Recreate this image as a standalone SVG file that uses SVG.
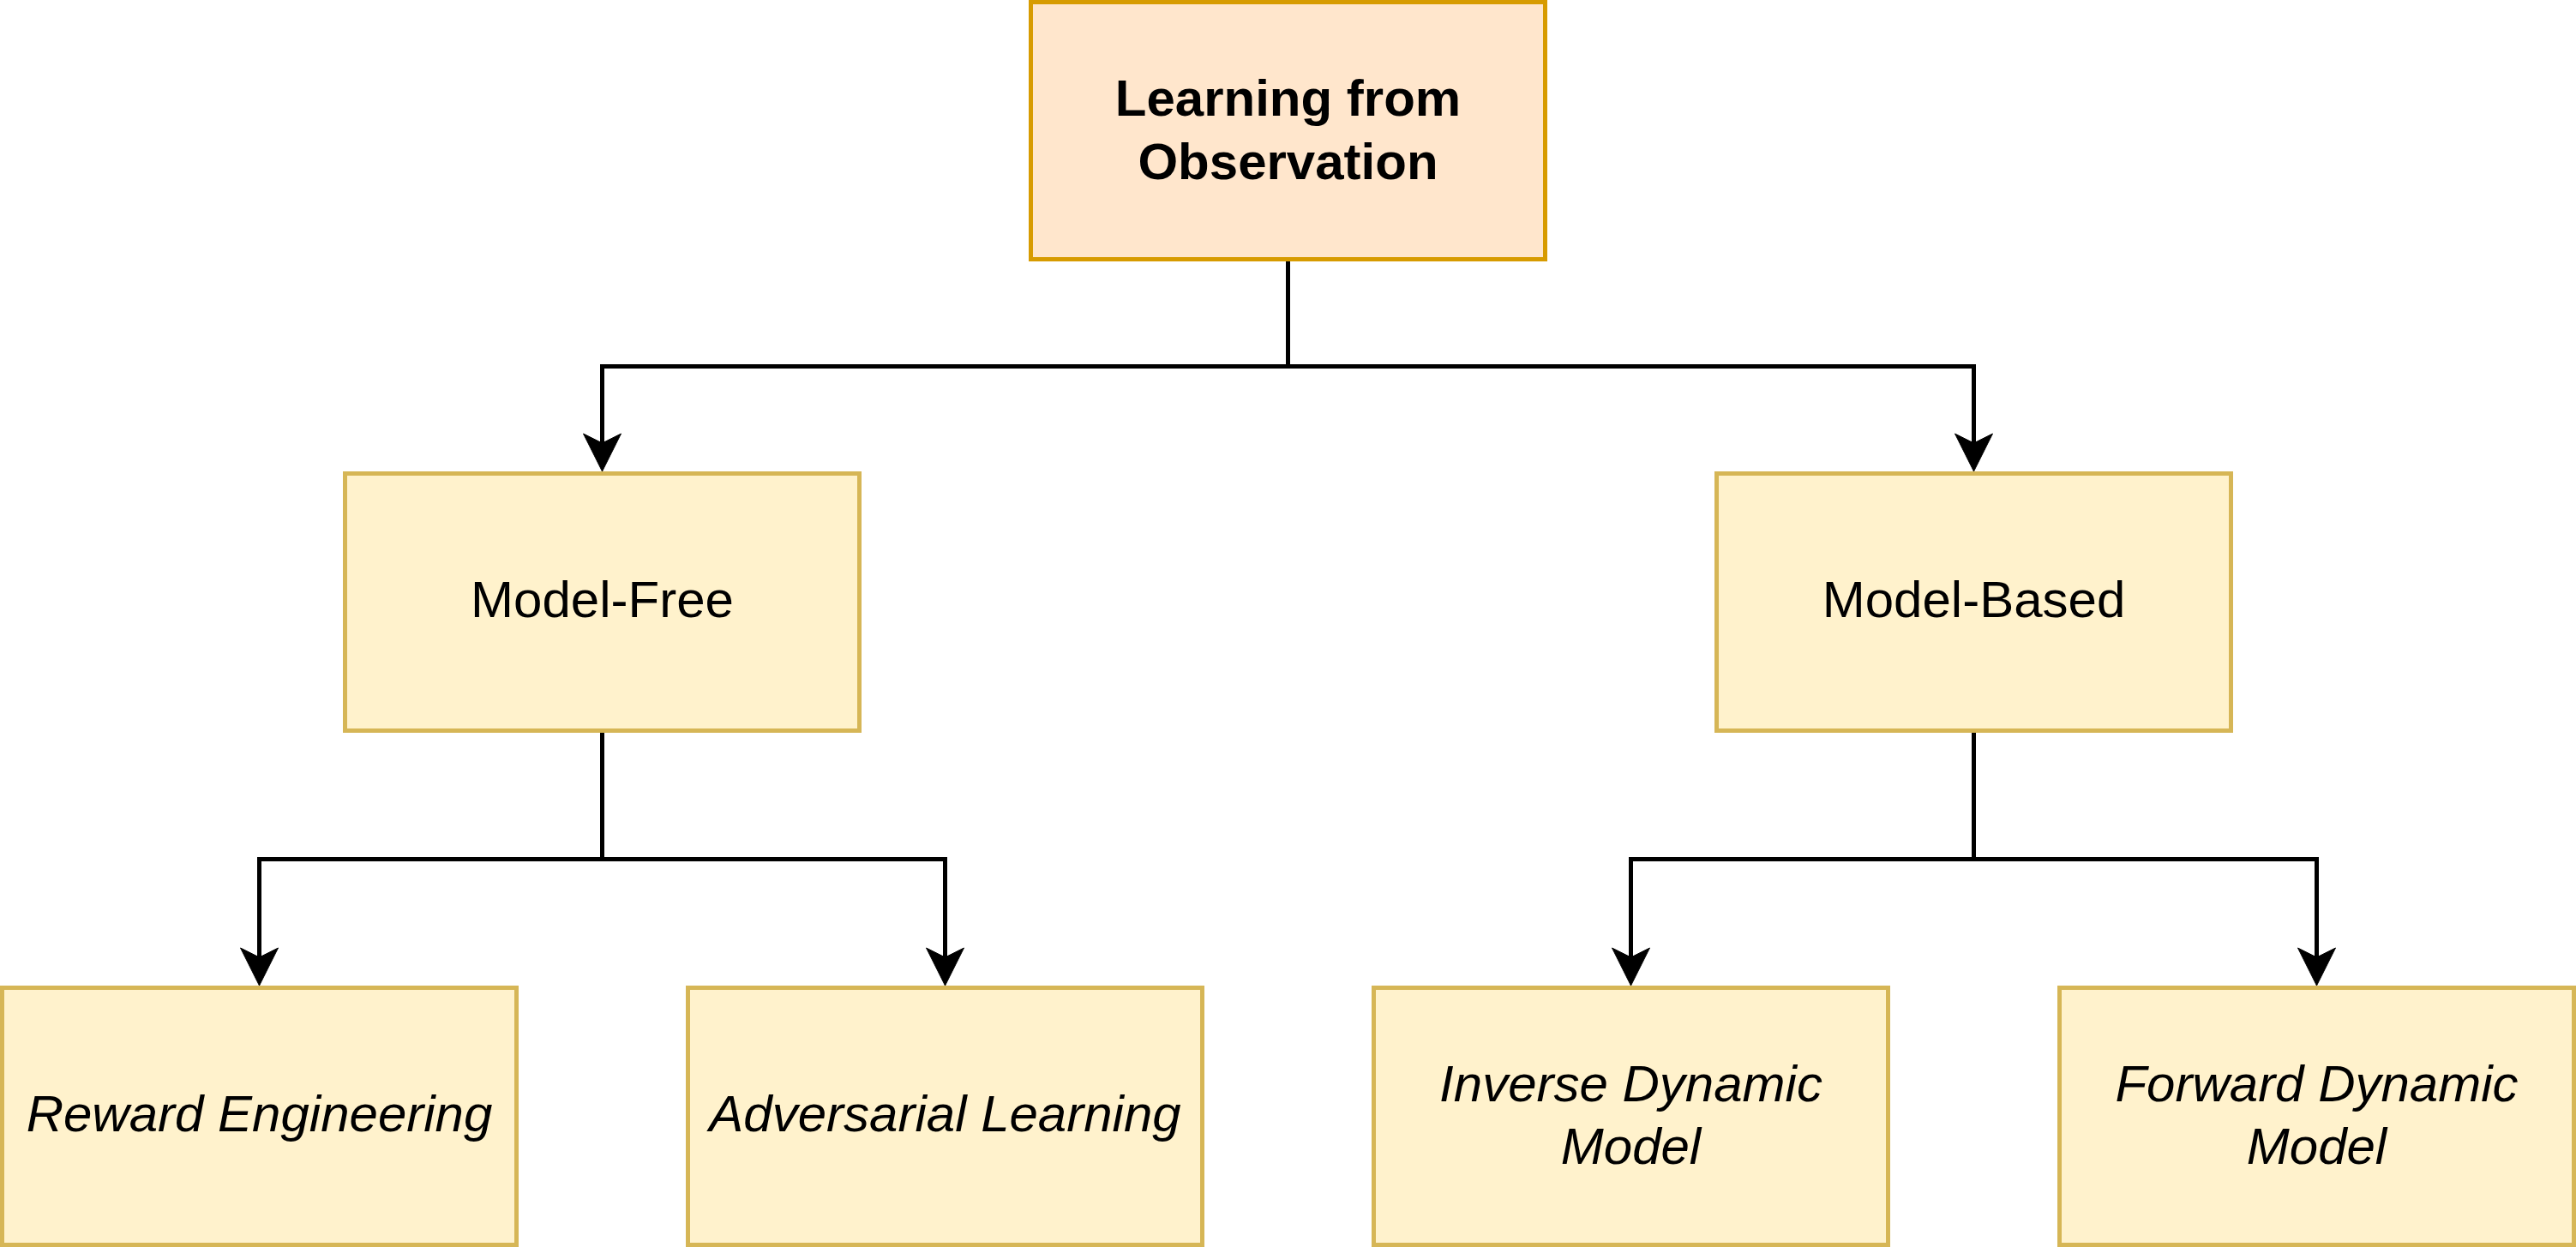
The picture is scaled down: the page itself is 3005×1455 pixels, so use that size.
<svg xmlns="http://www.w3.org/2000/svg" width="3005" height="1455" viewBox="0 0 3005 1455">
<style>
.bg{fill:#ffffff}
.root{fill:#ffe6cc;stroke:#d79b00;stroke-width:5}
.box{fill:#fff2cc;stroke:#d6b656;stroke-width:5}
.lbl{font-family:"Liberation Sans",Arial,Helvetica,sans-serif;font-size:60px;fill:#000000;text-anchor:middle}
.bold{font-weight:bold}
.it{font-style:italic}
.edge{fill:none;stroke:#000000;stroke-width:5;stroke-linejoin:miter}
</style>
<defs>
<marker id="arrow" markerUnits="userSpaceOnUse" viewBox="-2 -26 50 52" markerWidth="50" markerHeight="52" refX="34" refY="0" orient="auto" overflow="visible">
<path d="M0,-22 L44,0 L0,22 L11,0 Z" fill="#000000" stroke="#000000" stroke-width="1"/>
</marker>
</defs>
<rect class="bg" x="0" y="0" width="3005" height="1455"/>
<g id="connectors">
<path class="edge" d="M1502.5,302 V427.5 H702.5 V540" marker-end="url(#arrow)"/>
<path class="edge" d="M1502.5,302 V427.5 H2302.5 V540" marker-end="url(#arrow)"/>
<path class="edge" d="M702.5,852 V1002.5 H302.5 V1140" marker-end="url(#arrow)"/>
<path class="edge" d="M702.5,852 V1002.5 H1102.5 V1140" marker-end="url(#arrow)"/>
<path class="edge" d="M2302.5,852 V1002.5 H1902.5 V1140" marker-end="url(#arrow)"/>
<path class="edge" d="M2302.5,852 V1002.5 H2702.5 V1140" marker-end="url(#arrow)"/>
</g>
<g id="node-lfo">
<rect class="root" x="1202.5" y="2.5" width="600" height="300"/>
<text class="lbl bold" x="1502.5" y="135">Learning from</text>
<text class="lbl bold" x="1502.5" y="209">Observation</text>
</g>
<g id="node-model-free">
<rect class="box" x="402.5" y="552.5" width="600" height="300"/>
<text class="lbl" x="702.5" y="720">Model-Free</text>
</g>
<g id="node-model-based">
<rect class="box" x="2002.5" y="552.5" width="600" height="300"/>
<text class="lbl" x="2302.5" y="720">Model-Based</text>
</g>
<g id="node-reward">
<rect class="box" x="2.5" y="1152.5" width="600" height="300"/>
<text class="lbl it" x="302.5" y="1320">Reward Engineering</text>
</g>
<g id="node-adversarial">
<rect class="box" x="802.5" y="1152.5" width="600" height="300"/>
<text class="lbl it" x="1102.5" y="1320">Adversarial Learning</text>
</g>
<g id="node-inverse">
<rect class="box" x="1602.5" y="1152.5" width="600" height="300"/>
<text class="lbl it" x="1902.5" y="1285">Inverse Dynamic</text>
<text class="lbl it" x="1902.5" y="1358">Model</text>
</g>
<g id="node-forward">
<rect class="box" x="2402.5" y="1152.5" width="600" height="300"/>
<text class="lbl it" x="2702.5" y="1285">Forward Dynamic</text>
<text class="lbl it" x="2702.5" y="1358">Model</text>
</g>
</svg>
